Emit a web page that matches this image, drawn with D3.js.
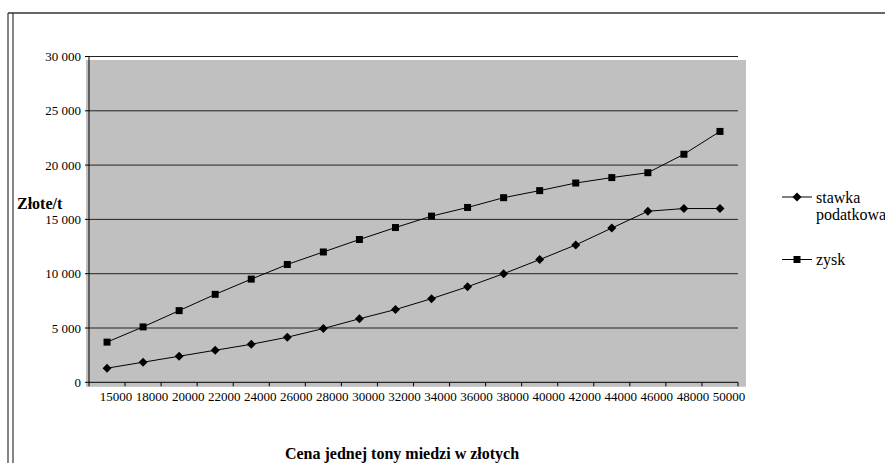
<!DOCTYPE html>
<html>
<head>
<meta charset="utf-8">
<script src="https://cdn.jsdelivr.net/npm/d3@7"></script>
<style>
  body { margin: 0; background: #fff; }
  svg { display: block; font-family: "Times New Roman", "Liberation Serif", "DejaVu Serif", serif; }
</style>
</head>
<body>
<div id="chart"></div>
<script>
// categories (price of one tonne of copper)
const categories = ['15000', '18000', '20000', '22000', '24000', '26000', '28000', '30000', '32000',
  '34000', '36000', '38000', '40000', '42000', '44000', '46000', '48000', '50000'];

// stawka podatkowa (tax rate)
const stawka = [1300, 1850, 2400, 2950, 3500, 4150, 4950, 5850, 6700,
  7700, 8800, 10000, 11300, 12650, 14200, 15750, 16000, 16000];

// zysk (profit)
const zysk = [3700, 5100, 6600, 8100, 9500, 10850, 12000, 13150, 14250,
  15300, 16100, 17000, 17650, 18350, 18850, 19300, 21000, 23100];

const yTicks = [0, 5000, 10000, 15000, 20000, 25000, 30000];

const W = 885, H = 466;
const svg = d3.select('#chart').append('svg')
  .attr('width', W)
  .attr('height', H);

// outer frame (top rule + double left rule)
svg.append('line').attr('x1', 8).attr('x2', W).attr('y1', 13).attr('y2', 13)
  .attr('stroke', '#333').attr('stroke-width', 1.5);
[8, 13].forEach(x => {
  svg.append('line').attr('x1', x).attr('x2', x).attr('y1', 13).attr('y2', 463)
    .attr('stroke', '#333').attr('stroke-width', 1.2);
});

// scales
const x = d3.scaleBand().domain(categories).range([89, 738]);
const y = d3.scaleLinear().domain([0, 30000]).range([382.3, 56.5]);

// gray plot background (slightly offset like the original)
svg.append('rect')
  .attr('x', x.range()[0] - 3)
  .attr('y', y(30000) + 3.5)
  .attr('width', x.range()[1] - x.range()[0] + 11)
  .attr('height', y(0) - y(30000) + 1)
  .attr('fill', '#c0c0c0');

// gridlines
yTicks.filter(t => t > 0).forEach(t => {
  svg.append('line')
    .attr('x1', x.range()[0]).attr('x2', x.range()[1])
    .attr('y1', y(t)).attr('y2', y(t))
    .attr('stroke', '#222').attr('stroke-width', 1);
});

// y axis
svg.append('line')
  .attr('x1', x.range()[0]).attr('x2', x.range()[0])
  .attr('y1', y(30000)).attr('y2', y(0))
  .attr('stroke', '#000').attr('stroke-width', 1);
yTicks.forEach(t => {
  svg.append('line')
    .attr('x1', x.range()[0] - 4).attr('x2', x.range()[0])
    .attr('y1', y(t)).attr('y2', y(t))
    .attr('stroke', '#000');
  svg.append('text')
    .attr('x', 81)
    .attr('y', y(t))
    .attr('dy', '0.35em')
    .attr('text-anchor', 'end')
    .style('font-size', '13px')
    .text(d3.format(',')(t).replace(/,/g, ' '));
});

// x axis
svg.append('line')
  .attr('x1', x.range()[0]).attr('x2', x.range()[1])
  .attr('y1', y(0)).attr('y2', y(0))
  .attr('stroke', '#000').attr('stroke-width', 1);
const boundaries = categories.map(c => x(c)).concat([x.range()[1]]);
boundaries.forEach(b => {
  svg.append('line')
    .attr('x1', b).attr('x2', b)
    .attr('y1', y(0)).attr('y2', y(0) + 4)
    .attr('stroke', '#000');
});
categories.forEach(c => {
  svg.append('text')
    .attr('x', x(c) + x.bandwidth() / 2 + 9)
    .attr('y', y(0) + 14)
    .attr('dy', '0.35em')
    .attr('text-anchor', 'middle')
    .style('font-size', '13px')
    .text(c);
});

// series lines + markers
const line = d3.line()
  .x((d, i) => x(categories[i]) + x.bandwidth() / 2)
  .y(d => y(d));

// Excel-like diamond: a square turned 45 degrees
const diamondType = {
  draw(context, size) {
    const r = Math.sqrt(size / 2);
    context.moveTo(0, -r);
    context.lineTo(r, 0);
    context.lineTo(0, r);
    context.lineTo(-r, 0);
    context.closePath();
  }
};
const diamond = d3.symbol().type(diamondType).size(40);
const square = d3.symbol().type(d3.symbolSquare).size(49);

function drawSeries(values, sym) {
  svg.append('path')
    .datum(values)
    .attr('d', line)
    .attr('fill', 'none')
    .attr('stroke', '#000')
    .attr('stroke-width', 1);
  svg.append('g').selectAll('path')
    .data(values)
    .join('path')
    .attr('d', sym)
    .attr('transform', (d, i) => `translate(${x(categories[i]) + x.bandwidth() / 2},${y(d)})`)
    .attr('fill', '#000');
}
drawSeries(stawka, diamond);
drawSeries(zysk, square);

// legend
const legend = [
  { sym: diamond, y: 197, lines: ['stawka', 'podatkowa'] },
  { sym: square, y: 259.5, lines: ['zysk'] }
];
legend.forEach(l => {
  svg.append('line').attr('x1', 782).attr('x2', 812).attr('y1', l.y).attr('y2', l.y)
    .attr('stroke', '#000');
  svg.append('path').attr('d', l.sym).attr('transform', `translate(797,${l.y})`).attr('fill', '#000');
  l.lines.forEach((t, i) => {
    svg.append('text')
      .attr('x', 816)
      .attr('y', l.y + i * 17)
      .attr('dy', '0.35em')
      .style('font-size', '16px')
      .text(t);
  });
});

// axis titles
svg.append('text')
  .attr('x', 17)
  .attr('y', 203)
  .attr('dy', '0.35em')
  .style('font-size', '16px')
  .style('font-weight', 'bold')
  .text('Złote/t');

svg.append('text')
  .attr('x', 402)
  .attr('y', 453)
  .attr('dy', '0.35em')
  .attr('text-anchor', 'middle')
  .style('font-size', '16px')
  .style('font-weight', 'bold')
  .text('Cena jednej tony miedzi w złotych');
</script>
</body>
</html>
